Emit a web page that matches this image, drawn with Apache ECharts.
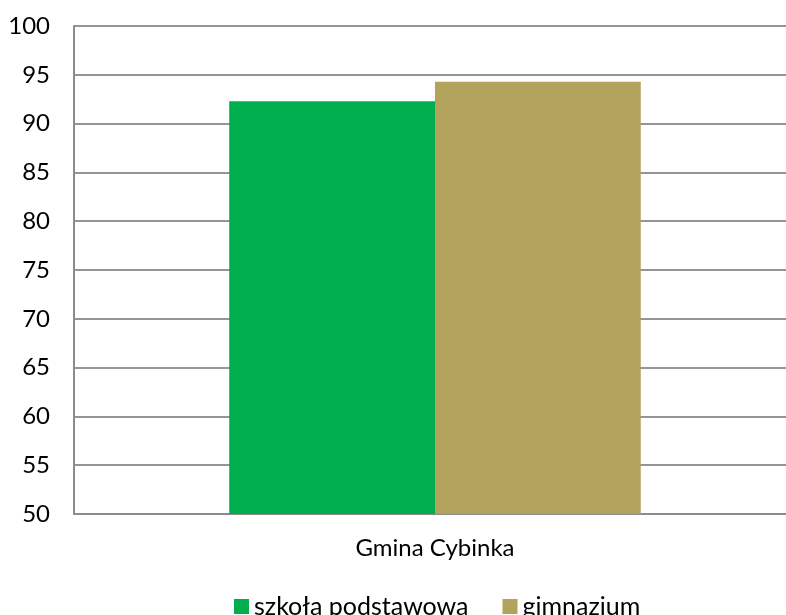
<!DOCTYPE html>
<html>
<head>
<meta charset="utf-8">
<script src="https://cdn.jsdelivr.net/npm/echarts@6/dist/echarts.min.js"></script>
<style>
  html, body { margin: 0; padding: 0; background: #fff; }
  #main { width: 786px; height: 615px; }
</style>
</head>
<body>
<div id="main"></div>
<script>
const kategorie = ['Gmina Cybinka'];
const szkolaPodstawowa = [92.3];
const gimnazjum = [94.3];

var myChart = echarts.init(document.getElementById('main'));
var option;

const czcionka = 'Lato, "Liberation Sans", sans-serif';

option = {
  animation: false,
  textStyle: { fontFamily: czcionka },
  grid: {
    left: 74,
    top: 26,
    width: 722,
    height: 488,
    outerBoundsMode: 'none',
    containLabel: false
  },
  legend: {
    top: 589,
    left: 229,
    itemWidth: 15,
    itemHeight: 15,
    itemGap: 34,
    icon: 'rect',
    textStyle: { fontSize: 25, color: '#000', fontFamily: czcionka },
    data: ['szkoła podstawowa', 'gimnazjum']
  },
  xAxis: {
    type: 'category',
    data: kategorie,
    axisTick: { show: false },
    axisLine: { lineStyle: { color: '#8c8c8c', width: 2 } },
    axisLabel: { fontSize: 24, color: '#000', margin: 22, fontFamily: czcionka }
  },
  yAxis: {
    type: 'value',
    min: 50,
    max: 100,
    interval: 5,
    axisLine: { show: true, lineStyle: { color: '#8c8c8c', width: 2 } },
    axisTick: { show: false },
    splitLine: { lineStyle: { color: '#959595', width: 2 } },
    axisLabel: { fontSize: 24, color: '#000', margin: 24, fontFamily: czcionka }
  },
  series: [
    {
      name: 'szkoła podstawowa',
      type: 'bar',
      data: szkolaPodstawowa,
      barGap: '0%',
      barCategoryGap: '43%',
      itemStyle: { color: '#00ae4f' }
    },
    {
      name: 'gimnazjum',
      type: 'bar',
      data: gimnazjum,
      itemStyle: { color: '#b2a25b' }
    }
  ]
};

option && myChart.setOption(option);
</script>
</body>
</html>
